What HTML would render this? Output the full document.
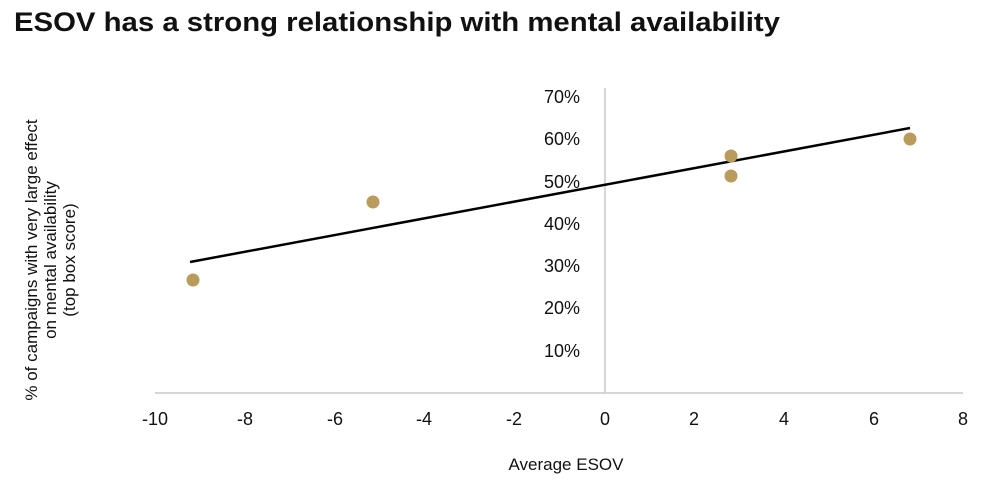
<!DOCTYPE html>
<html><head><style>
body{margin:0;background:#fff;}
svg text{font-family:"Liberation Sans",sans-serif;fill:#111;}
</style></head><body>
<svg width="1000" height="491" xmlns="http://www.w3.org/2000/svg">
<text x="14" y="31" font-size="27" font-weight="bold" fill="#111" textLength="766" lengthAdjust="spacingAndGlyphs">ESOV has a strong relationship with mental availability</text>
<line x1="155" y1="393" x2="963" y2="393" stroke="#c8c8c8" stroke-width="1.5"/>
<line x1="605" y1="88" x2="605" y2="393" stroke="#c8c8c8" stroke-width="1.5"/>
<g font-size="18">
<text x="544" y="103">70%</text>
<text x="544" y="145">60%</text>
<text x="544" y="188">50%</text>
<text x="544" y="230">40%</text>
<text x="544" y="272">30%</text>
<text x="544" y="314">20%</text>
<text x="544" y="357">10%</text>
</g>
<g font-size="18" text-anchor="middle">
<text x="155" y="425">-10</text>
<text x="245" y="425">-8</text>
<text x="335" y="425">-6</text>
<text x="424" y="425">-4</text>
<text x="514" y="425">-2</text>
<text x="605" y="425">0</text>
<text x="694" y="425">2</text>
<text x="784" y="425">4</text>
<text x="874" y="425">6</text>
<text x="963" y="425">8</text>
</g>
<text x="566" y="470" font-size="17" text-anchor="middle">Average ESOV</text>
<g font-size="17" text-anchor="middle">
<text transform="translate(37,260) rotate(-90)">% of campaigns with very large effect</text>
<text transform="translate(56,260) rotate(-90)">on mental availability</text>
<text transform="translate(75,260) rotate(-90)">(top box score)</text>
</g>
<line x1="190" y1="262" x2="910" y2="128" stroke="#000" stroke-width="2.5"/>
<g fill="#b99b5c">
<circle cx="193" cy="280" r="6.5"/>
<circle cx="373" cy="202" r="6.5"/>
<circle cx="731" cy="156" r="6.5"/>
<circle cx="731" cy="176" r="6.5"/>
<circle cx="910" cy="139" r="6.5"/>
</g>
</svg>
</body></html>
